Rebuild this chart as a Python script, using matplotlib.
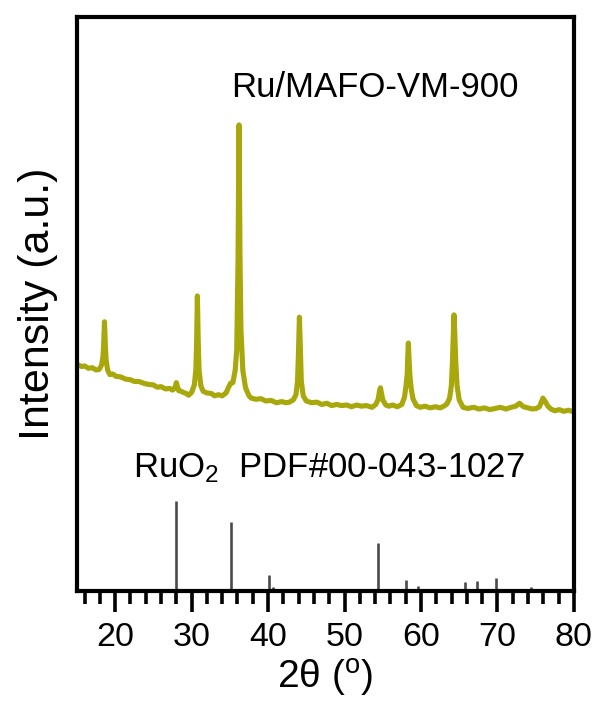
import matplotlib
matplotlib.use("Agg")
import matplotlib.pyplot as plt
from matplotlib.ticker import MultipleLocator

plt.rcParams['font.family'] = ['Liberation Sans', 'DejaVu Sans']
plt.rcParams['mathtext.fontset'] = 'custom'
plt.rcParams['mathtext.rm'] = 'Liberation Sans'
plt.rcParams['mathtext.it'] = 'Liberation Sans:italic'

# ---- measured XRD pattern (Ru/MAFO-VM-900), a.u. ----
two_theta = [
    15.15, 15.6, 16.0, 16.5, 17.0, 17.5, 17.9, 18.2, 18.4, 18.48,
    18.55, 18.6, 18.65, 18.72, 18.8, 19.0, 19.3, 19.7, 20.1, 20.7,
    21.4, 22.0, 22.5, 23.1, 23.7, 24.3, 25.0, 25.5, 26.0, 26.6,
    27.1, 27.5, 27.7, 27.9, 28.0, 28.1, 28.3, 28.6, 28.9, 29.3,
    29.6, 30.0, 30.35, 30.55, 30.65, 30.7, 30.75, 30.8, 30.87, 30.97,
    31.2, 31.5, 32.0, 32.6, 33.0, 33.5, 34.0, 34.5, 34.8, 35.1,
    35.4, 35.7, 35.9, 36.07, 36.15, 36.2, 36.25, 36.33, 36.45, 36.7,
    37.05, 37.5, 37.8, 38.4, 39.1, 39.7, 40.4, 41.1, 41.8, 42.3,
    42.8, 43.3, 43.65, 43.85, 43.95, 44.03, 44.1, 44.17, 44.25, 44.35,
    44.6, 45.0, 45.7, 46.4, 47.0, 47.7, 48.3, 49.0, 49.6, 50.3,
    50.9, 51.6, 52.2, 52.9, 53.6, 54.1, 54.4, 54.6, 54.7, 54.8,
    55.0, 55.4, 55.8, 56.3, 56.9, 57.5, 57.85, 58.05, 58.2, 58.28,
    58.35, 58.42, 58.55, 58.7, 58.95, 59.4, 59.9, 60.5, 61.2, 61.9,
    62.5, 63.0, 63.4, 63.75, 63.98, 64.12, 64.24, 64.33, 64.42, 64.55,
    64.72, 65.0, 65.5, 66.1, 66.9, 67.6, 68.3, 69.0, 69.7, 70.4,
    71.1, 71.8, 72.4, 72.9, 73.4, 74.0, 74.6, 75.1, 75.5, 75.75,
    75.95, 76.1, 76.3, 76.6, 77.0, 77.5, 78.1, 78.7, 79.3, 80.0,
]
intensity = [
    39.4, 39.1, 39.2, 38.8, 38.9, 38.5, 38.6, 39.3, 40.8, 42.5,
    45.0, 46.9, 45.0, 42.5, 40.4, 38.5, 37.7, 37.8, 37.4, 37.3,
    36.9, 36.8, 36.5, 36.5, 36.2, 36.0, 35.9, 35.5, 35.6, 35.2,
    35.3, 35.0, 35.2, 35.8, 36.3, 35.8, 34.9, 34.8, 34.6, 34.4,
    34.1, 34.6, 35.9, 38.5, 43.0, 47.5, 51.4, 47.5, 43.0, 38.5,
    35.8, 34.8, 34.5, 34.4, 34.0, 34.2, 34.0, 34.5, 35.4, 36.2,
    36.3, 38.5, 42.0, 57.7, 73.0, 81.2, 73.0, 57.7, 45.5, 38.4,
    35.4, 34.0, 33.6, 33.4, 33.5, 33.1, 33.2, 32.8, 33.0, 32.8,
    32.9, 33.3, 34.2, 36.5, 40.3, 44.5, 47.7, 44.5, 40.3, 36.5,
    34.0, 33.1, 32.8, 32.9, 32.5, 32.7, 32.3, 32.5, 32.3, 32.4,
    32.1, 32.4, 32.2, 32.3, 32.0, 32.5, 33.4, 35.0, 35.4, 34.7,
    33.3, 32.4, 32.2, 32.4, 32.1, 32.5, 33.8, 35.8, 37.8, 41.0,
    43.2, 41.0, 37.6, 35.5, 33.5, 32.3, 32.0, 32.2, 31.9, 32.1,
    31.9, 32.2, 32.6, 33.6, 35.8, 40.0, 45.0, 48.1, 45.0, 40.0,
    35.8, 33.3, 32.0, 31.8, 32.0, 31.7, 31.9, 31.6, 31.8, 32.0,
    31.7, 32.0, 32.2, 32.7, 32.1, 31.9, 31.7, 31.8, 32.1, 32.9,
    33.6, 33.3, 32.9, 32.2, 31.7, 31.4, 31.6, 31.3, 31.5, 31.2,
]

# ---- RuO2 reference lines, PDF#00-043-1027 ----
ref_pos = [28.0, 35.1, 40.1, 40.6, 45.2, 54.4, 58.1, 59.6, 65.8, 67.3,
           69.8, 73.4, 74.4, 76.4, 77.9]
ref_int = [15.7, 12.0, 2.8, 0.7, 0.3, 8.4, 1.9, 0.9, 1.6, 1.7,
           2.3, 0.3, 0.7, 0.2, 0.2]

x_ticks = [20, 30, 40, 50, 60, 70, 80]
sample_label = "Ru/MAFO-VM-900"
ref_label = r"RuO$_\mathregular{2}$  PDF#00-043-1027"

fig = plt.figure(figsize=(5.99, 7.04), dpi=100)
ax = fig.add_axes([0.1285, 0.1605, 0.8295, 0.8154])

ax.plot(two_theta, intensity, color="#a8a80c", lw=3.7, solid_joinstyle='round')
ax.vlines(ref_pos, 0, ref_int, color="#4a4a4a", lw=1.9)

ax.set_xlim(15, 80)
ax.set_ylim(0, 100)
ax.set_xticks(x_ticks)
ax.xaxis.set_minor_locator(MultipleLocator(2))
ax.set_yticks([])
ax.tick_params(axis='x', which='major', direction='out', length=15, width=2.6,
               labelsize=24.5, pad=7)
ax.tick_params(axis='x', which='minor', direction='out', length=9, width=2.6)
for s in ax.spines.values():
    s.set_linewidth(3.0)

ax.set_xlabel(r"2θ ($^\mathregular{o}$)", fontsize=28, labelpad=3)
ax.set_ylabel("Intensity (a.u.)", fontsize=31, labelpad=14)

ax.text(35.2, 86.1, sample_label, fontsize=25, va='baseline', ha='left')
ax.text(22.36, 19.86, ref_label, fontsize=25, va='baseline', ha='left')

fig.savefig("out.png", dpi=100)
